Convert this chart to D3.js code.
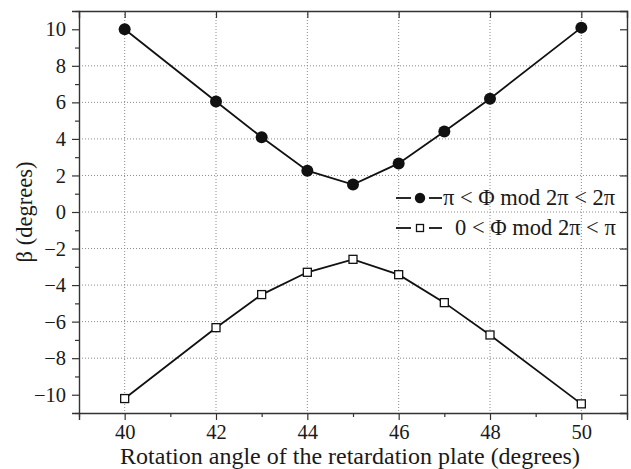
<!DOCTYPE html>
<html>
<head>
<meta charset="utf-8">
<script src="https://cdn.jsdelivr.net/npm/d3@7"></script>
<style>
  html, body { margin: 0; padding: 0; background: #fff; }
  svg { display: block; }
</style>
</head>
<body>
<svg id="chart" width="631" height="469"></svg>
<script>
// Rotation angle of the retardation plate (degrees)
const angles = [40, 42, 43, 44, 45, 46, 47, 48, 50];
// β for π < Φ mod 2π < 2π
const betaUpper = [10.0, 6.05, 4.09, 2.26, 1.50, 2.66, 4.40, 6.20, 10.09];
// β for 0 < Φ mod 2π < π
const betaLower = [-10.21, -6.33, -4.52, -3.30, -2.59, -3.43, -4.96, -6.73, -10.50];

const xTicks = [40, 42, 44, 46, 48, 50];
const xMinor = [39, 41, 43, 45, 47, 49, 51];
const yTicks = [-10, -8, -6, -4, -2, 0, 2, 4, 6, 8, 10];
const yMinor = [-11, -9, -7, -5, -3, -1, 1, 3, 5, 7, 9, 11];
const yGrid = [-8, -6, -4, -2, 0, 2, 4, 6, 8];

const seriesNames = ["π < Φ mod 2π < 2π", "0 < Φ mod 2π < π"];

const FONT = '"Liberation Serif"';
const tickSizePx = 20.5, xTitlePx = 24, yTitlePx = 22.5, legendPx = 22.5;
const ink = "#1a1a1a";

const margin = { left: 79, top: 11, right: 4, bottom: 56 };
const W = 631, H = 469;
const svg = d3.select("#chart");

const x = d3.scaleLinear().domain([39, 51]).range([margin.left, W - margin.right]);
const y = d3.scaleLinear().domain([-11, 11]).range([H - margin.bottom, margin.top]);

const fmt = d3.format("d");

// dotted grid
const grid = svg.append("g").attr("stroke", "#8a8a8a").attr("stroke-width", 1)
  .attr("stroke-dasharray", "1,2");
grid.selectAll("line.gx").data(xTicks).join("line")
  .attr("x1", d => x(d)).attr("x2", d => x(d))
  .attr("y1", y(11)).attr("y2", y(-11));
grid.selectAll("line.gy").data(yGrid).join("line")
  .attr("y1", d => y(d)).attr("y2", d => y(d))
  .attr("x1", x(39)).attr("x2", x(51));

// bottom axis (ticks outward)
svg.append("g").attr("transform", `translate(0,${y(-11)})`)
  .call(d3.axisBottom(x).tickValues(xTicks).tickFormat(fmt).tickSize(7).tickPadding(4));
svg.append("g").attr("transform", `translate(0,${y(-11)})`)
  .call(d3.axisBottom(x).tickValues(xMinor).tickFormat("").tickSize(4))
  .call(g => g.select(".domain").remove());

// left axis (ticks outward)
svg.append("g").attr("transform", `translate(${x(39)},0)`)
  .call(d3.axisLeft(y).tickValues(yTicks).tickFormat(fmt).tickSize(7).tickPadding(6));
svg.append("g").attr("transform", `translate(${x(39)},0)`)
  .call(d3.axisLeft(y).tickValues(yMinor).tickFormat("").tickSize(4))
  .call(g => g.select(".domain").remove());

// top axis (ticks inward)
svg.append("g").attr("transform", `translate(0,${y(11)})`)
  .call(d3.axisTop(x).tickValues(xTicks).tickFormat("").tickSize(-7));
// right axis (ticks inward)
svg.append("g").attr("transform", `translate(${x(51)},0)`)
  .call(d3.axisRight(y).tickValues(yTicks).tickFormat("").tickSize(-7));

svg.selectAll(".domain").attr("stroke", "#333").attr("stroke-width", 1.4);
svg.selectAll(".tick line").attr("stroke", "#333").attr("stroke-width", 1.2);
svg.selectAll(".tick text")
  .style("font-family", FONT).style("font-size", tickSizePx + "px").attr("fill", ink);

// axis titles
svg.append("text")
  .attr("x", 350).attr("y", 464)
  .attr("text-anchor", "middle")
  .style("font-family", FONT).style("font-size", xTitlePx + "px").attr("fill", ink)
  .text("Rotation angle of the retardation plate (degrees)");
svg.append("text")
  .attr("transform", `translate(32,${y(0)}) rotate(-90)`)
  .attr("text-anchor", "middle")
  .style("font-family", FONT).style("font-size", yTitlePx + "px").attr("fill", ink)
  .text("β (degrees)");

const line = d3.line().x(d => x(d[0])).y(d => y(d[1]));
const up = angles.map((a, i) => [a, betaUpper[i]]);
const lo = angles.map((a, i) => [a, betaLower[i]]);

svg.append("path").datum(up).attr("d", line)
  .attr("fill", "none").attr("stroke", "#111").attr("stroke-width", 1.8);
svg.append("path").datum(lo).attr("d", line)
  .attr("fill", "none").attr("stroke", "#111").attr("stroke-width", 1.8);

svg.selectAll("circle.up").data(up).join("circle")
  .attr("cx", d => x(d[0])).attr("cy", d => y(d[1])).attr("r", 6)
  .attr("fill", "#111");
const sq = 8;
svg.selectAll("rect.lo").data(lo).join("rect")
  .attr("x", d => x(d[0]) - sq / 2).attr("y", d => y(d[1]) - sq / 2)
  .attr("width", sq).attr("height", sq)
  .attr("fill", "#fff").attr("stroke", "#111").attr("stroke-width", 1.3);

// legend: short line segments either side of the marker
const lg = svg.append("g");
const rows = [{ y: 198, tx: 443, name: seriesNames[0], kind: "circle" },
              { y: 228, tx: 455, name: seriesNames[1], kind: "square" }];
rows.forEach(r => {
  [[396, 411], [429, 442]].forEach(([a, b]) => {
    lg.append("line").attr("x1", a).attr("x2", b).attr("y1", r.y).attr("y2", r.y)
      .attr("stroke", "#111").attr("stroke-width", 1.8);
  });
  if (r.kind === "circle") {
    lg.append("circle").attr("cx", 420).attr("cy", r.y).attr("r", 5.2).attr("fill", "#111");
  } else {
    const s = 7;
    lg.append("rect").attr("x", 420 - s / 2).attr("y", r.y - s / 2)
      .attr("width", s).attr("height", s)
      .attr("fill", "#fff").attr("stroke", "#111").attr("stroke-width", 1.3);
  }
  lg.append("text").attr("x", r.tx).attr("y", r.y + 7)
    .style("font-family", FONT).style("font-size", legendPx + "px").attr("fill", ink)
    .text(r.name);
});
</script>
</body>
</html>
